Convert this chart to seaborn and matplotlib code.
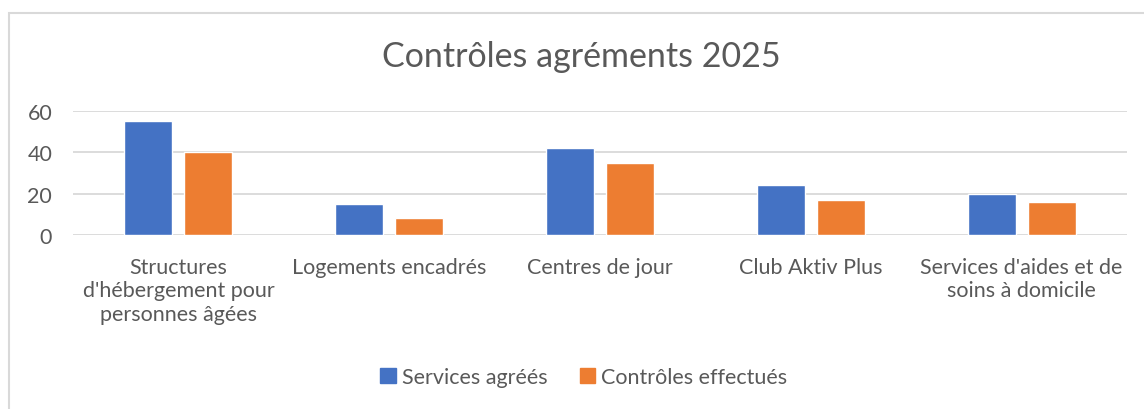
import matplotlib
matplotlib.use('Agg')
import matplotlib.pyplot as plt
import matplotlib.patches as mpatches
import pandas as pd
import seaborn as sns

blue = '#4472C4'
orange = '#ED7D31'
grey_txt = '#595959'
grey_line = '#D9D9D9'

categories = [
    "Structures\nd'hébergement pour\npersonnes âgées",
    "Logements encadrés",
    "Centres de jour",
    "Club Aktiv Plus",
    "Services d'aides et de\nsoins à domicile",
]
series = ["Services agréés", "Contrôles effectués"]
services_agrees = [55, 15, 42, 24, 20]
controles_effectues = [40, 8, 35, 17, 16]
yticks = [0, 20, 40, 60]


def main():
    sns.set_style('white')
    plt.rcParams['font.family'] = ['Lato', 'DejaVu Sans']

    df = pd.DataFrame({
        'categorie': categories * 2,
        'serie': [series[0]] * len(categories) + [series[1]] * len(categories),
        'valeur': services_agrees + controles_effectues,
    })

    fig = plt.figure(figsize=(11.44, 4.10), dpi=100)
    ax = fig.add_axes([73 / 1144, 1 - 236 / 410, (1127 - 73) / 1144, (236 - 112) / 410])

    sns.barplot(data=df, x='categorie', y='valeur', hue='serie',
                palette=[blue, orange], width=0.57, gap=0.2,
                saturation=1, ax=ax, legend=False)

    for s in ax.spines.values():
        s.set_visible(False)
    ax.set_ylim(0, 60)
    ax.set_yticks(yticks)
    ax.yaxis.grid(True, color=grey_line, lw=1.3)
    ax.set_axisbelow(True)
    ax.set_xlabel('')
    ax.set_ylabel('')
    ax.tick_params(axis='y', length=0, pad=15, labelsize=15.5, labelcolor=grey_txt)
    ax.tick_params(axis='x', length=0, pad=16, labelsize=15.5, labelcolor=grey_txt)
    for lbl in ax.get_xticklabels():
        lbl.set_linespacing(1.2)
        lbl.set_verticalalignment('top')

    fig.text(581 / 1144, 1 - 57 / 410, 'Contrôles agréments 2025',
             ha='center', va='center', fontsize=24.5, color=grey_txt)

    handles = [mpatches.Patch(color=blue), mpatches.Patch(color=orange)]
    fig.legend(handles, series, loc='center', bbox_to_anchor=(584 / 1144, 1 - 378 / 410),
               ncol=2, frameon=False, fontsize=15.5, labelcolor=grey_txt,
               handlelength=0.7, handleheight=0.7, handletextpad=0.3,
               columnspacing=1.5)

    # chart frame (cropped at right and bottom)
    fig.patches.append(mpatches.Rectangle((8.5 / 1144, -0.1), 1.2, 1 - 13.5 / 410 + 0.1,
                                          transform=fig.transFigure, fill=False,
                                          edgecolor=grey_line, lw=1.5))

    plt.savefig('out.png', dpi=100)


if __name__ == '__main__':
    main()
